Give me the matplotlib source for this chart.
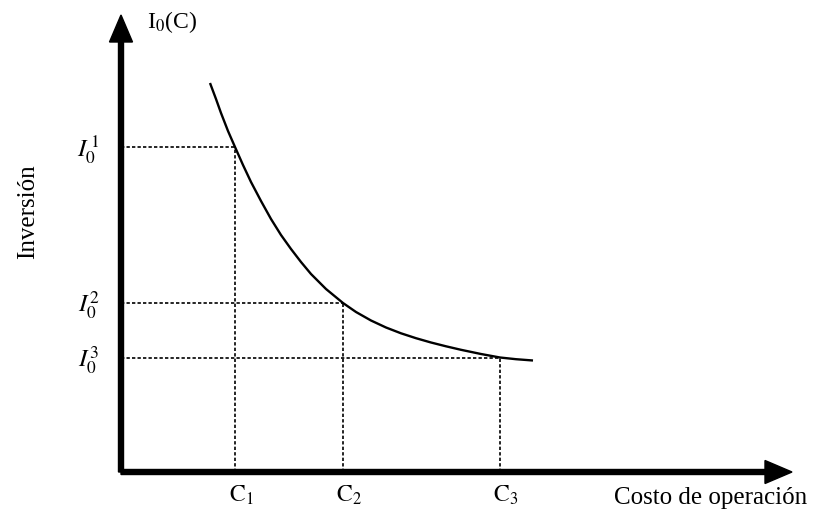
import matplotlib
matplotlib.use("Agg")
import matplotlib.pyplot as plt

plt.rcParams['font.family'] = ['Liberation Serif', 'DejaVu Serif']
plt.rcParams['mathtext.fontset'] = 'stix'

# Data (abstract units)
curve_cost = [8.9, 9.5, 10, 10.7, 11.4, 12.2, 13, 14, 15, 16, 17, 18, 19, 20.5,
              22.2, 23.5, 25, 26.5, 28, 29.5, 31, 32.5, 34, 36, 37.9, 39.5, 41.2]
curve_inv = [38.9, 37.3, 35.9, 34.1, 32.5, 30.7, 29.0, 27.1, 25.3, 23.7, 22.3, 21.0,
             19.8, 18.3, 16.9, 16.0, 15.15, 14.45, 13.87, 13.38, 12.95, 12.57, 12.22,
             11.8, 11.45, 11.28, 11.15]
cost_points = [11.4, 22.2, 37.9]
inv_points = [32.5, 16.9, 11.4]
cost_labels = [r'$\mathrm{C}_1$', r'$\mathrm{C}_2$', r'$\mathrm{C}_3$']
inv_labels = [r'$I_0^{\,1}$', r'$I_0^2$', r'$I_0^3$']

fig = plt.figure(figsize=(8.4, 5.22), dpi=100)
ax = fig.add_axes([0, 0, 1, 1])
ax.set_xlim(-12.1, 71.9)
ax.set_ylim(-5.0, 47.2)
ax.axis('off')

# axes arrows
ax.arrow(0, 0, 64.4, 0, width=0.5, head_width=2.3, head_length=2.7,
         length_includes_head=False, color='black', zorder=3)
ax.arrow(0, 0, 0, 43.0, width=0.5, head_width=2.3, head_length=2.7,
         length_includes_head=False, color='black', zorder=3)

# curve
ax.plot(curve_cost, curve_inv, color='black', lw=1.7, solid_capstyle='butt')

# dotted guides
for c, i in zip(cost_points, inv_points):
    ax.plot([0, c], [i, i], color='black', lw=1.2, linestyle=(0, (2, 1.3)))
    ax.plot([c, c], [0, i], color='black', lw=1.2, linestyle=(0, (2, 1.3)))

for c, lab in zip(cost_points, cost_labels):
    ax.text(c + 0.6, -2.3, lab, ha='center', va='center', fontsize=17)
for i, lab in zip(inv_points, inv_labels):
    ax.text(-2.2, i - 0.2, lab, ha='right', va='center', fontsize=18)

ax.text(2.6, 45.0, r'I$_0$(C)', ha='left', va='center', fontsize=17)
ax.text(59.0, -2.6, 'Costo de operación', ha='center', va='center', fontsize=18)
ax.text(-9.3, 26.0, 'Inversión', ha='center', va='center', rotation=90, fontsize=18)

fig.savefig('out.png', dpi=100, facecolor='white')
